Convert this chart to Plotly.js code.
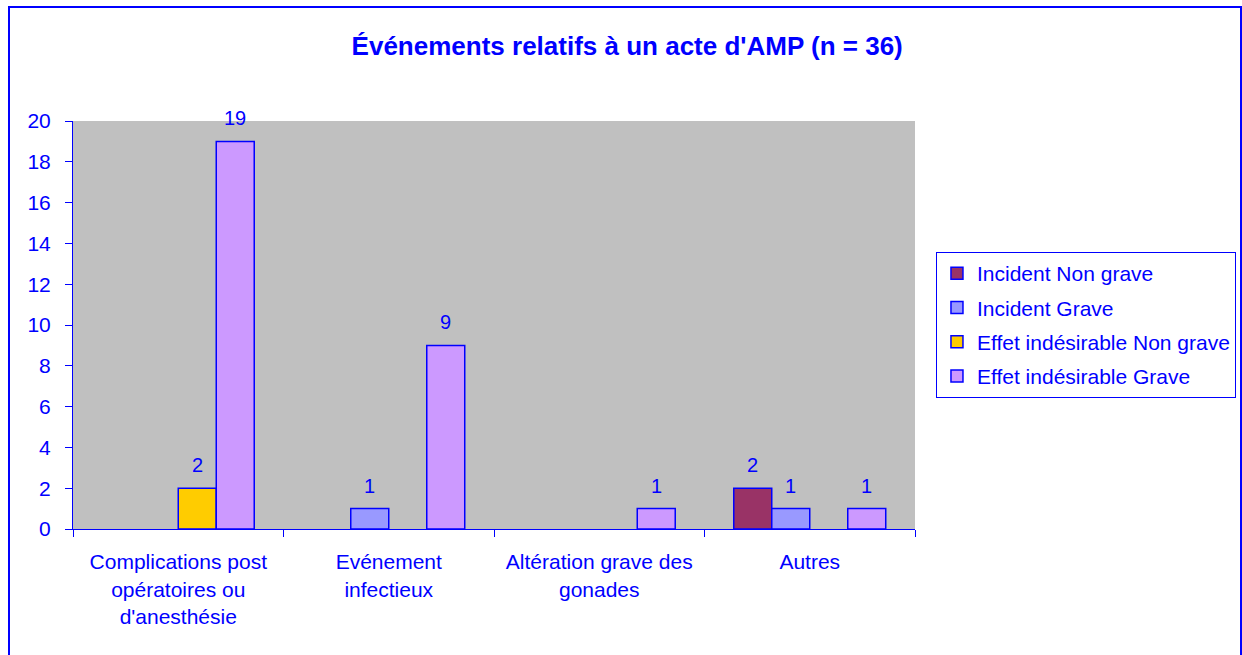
<!DOCTYPE html>
<html>
<head>
<meta charset="utf-8">
<script src="https://cdn.plot.ly/plotly-3.0.1.min.js"></script>
<style>
html,body{margin:0;padding:0;background:#fff;overflow:hidden;}
#frame{position:absolute;left:8px;top:6px;width:1230px;height:670px;border:2px solid #0000FF;pointer-events:none;}
#chart{position:absolute;left:0;top:0;width:1242px;height:655px;}
</style>
</head>
<body>
<div id="chart"></div>
<div id="frame"></div>
<script>
var categories = ["Complications post<br>opératoires ou<br>d'anesthésie", "Evénement<br>infectieux", "Altération grave des<br>gonades", "Autres"];
var seriesNames = ["Incident Non grave", "Incident Grave", "Effet indésirable Non grave", "Effet indésirable Grave"];
var incidentNonGrave = [0, 0, 0, 2];
var incidentGrave = [0, 1, 0, 1];
var effetNonGrave = [2, 0, 0, 0];
var effetGrave = [19, 9, 1, 1];
var colors = ["#993366", "#9999FF", "#FFCC00", "#CC99FF"];
var yTicks = [0, 2, 4, 6, 8, 10, 12, 14, 16, 18, 20];

var allSeries = [incidentNonGrave, incidentGrave, effetNonGrave, effetGrave];
var font = "Liberation Sans, Arial, sans-serif";
var blue = "#0000FF";
var bargap = 0.278;
var nSeries = allSeries.length;
var barW = (1 - bargap) / nSeries;

var traces = allSeries.map(function(vals, i){
  return {
    type: 'bar',
    name: seriesNames[i],
    x: categories,
    y: vals.map(function(v){ return v === 0 ? null : v; }),
    marker: {color: colors[i], line: {color: blue, width: 1.5}},
    legendgroup: 'g' + i,
    hoverinfo: 'none'
  };
});

// value labels above bars (non-zero only), positioned via the category axis
var annotations = [];
allSeries.forEach(function(vals, i){
  vals.forEach(function(v, c){
    if (v === 0) return;
    annotations.push({
      xref: 'x', yref: 'y',
      x: c + (i - (nSeries - 1) / 2) * barW,
      y: v,
      text: String(v),
      showarrow: false,
      xanchor: 'center', yanchor: 'bottom',
      yshift: 10,
      font: {family: font, size: 20, color: blue}
    });
  });
});

var layout = {
  width: 1242, height: 655,
  margin: {l: 73, r: 327, t: 121, b: 126, autoexpand: false},
  paper_bgcolor: 'rgba(0,0,0,0)',
  plot_bgcolor: '#C0C0C0',
  font: {family: font, color: blue, size: 20},
  title: {text: "<b>Événements relatifs à un acte d'AMP (n = 36)</b>", font: {family: font, size: 26, color: blue}, x: 0.505, xanchor: 'center', y: 0.93, yanchor: 'middle'},
  barmode: 'group',
  bargap: bargap,
  bargroupgap: 0,
  showlegend: true,
  annotations: annotations,
  legend: {
    xref: 'container', yref: 'container',
    x: 0.7536, xanchor: 'left', y: 0.6153, yanchor: 'top',
    bgcolor: '#FFFFFF', bordercolor: blue, borderwidth: 1,
    font: {family: font, size: 21, color: blue},
    traceorder: 'grouped', tracegroupgap: 4
  },
  xaxis: {
    showgrid: false, showline: true, linecolor: blue, linewidth: 1,
    ticks: 'outside', tickson: 'boundaries', ticklen: 7, tickcolor: blue,
    tickfont: {family: font, size: 21, color: blue},
    ticklabelstandoff: 14,
    automargin: false,
    fixedrange: true
  },
  yaxis: {
    range: [0, 20], tickvals: yTicks, ticktext: yTicks.map(String),
    showgrid: false, zeroline: false, showline: true, linecolor: blue, linewidth: 1,
    ticks: 'outside', ticklen: 7, tickcolor: blue,
    tickfont: {family: font, size: 21, color: blue},
    ticklabelstandoff: 10,
    automargin: false,
    fixedrange: true
  }
};

Plotly.newPlot('chart', traces, layout, {staticPlot: true});
</script>
</body>
</html>
